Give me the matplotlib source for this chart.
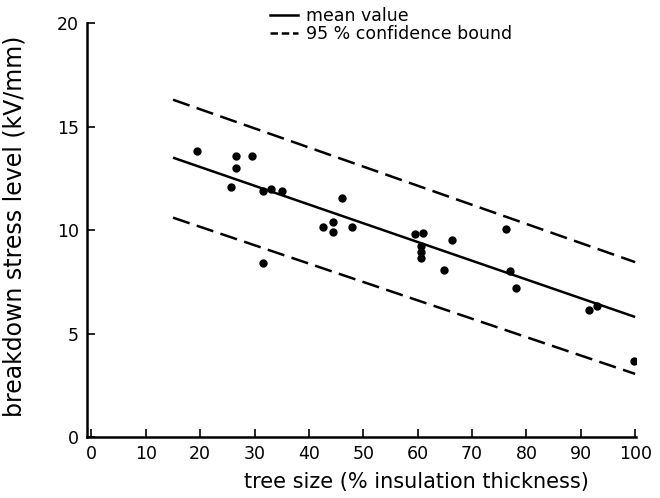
import matplotlib
matplotlib.use("Agg")
import matplotlib.pyplot as plt
from matplotlib.lines import Line2D

# data
tree_size = [19.5, 26.5, 29.5, 26.5, 25.7, 31.5, 33.0, 35.0, 31.6,
             46.1, 42.6, 44.5, 44.5, 48.0,
             59.5, 61.0, 60.7, 60.7, 60.7, 66.4, 64.9,
             76.3, 77.0, 78.1, 91.5, 93.0, 99.8]
stress = [13.8, 13.6, 13.6, 13.0, 12.1, 11.9, 12.0, 11.9, 8.4,
          11.55, 10.15, 10.4, 9.9, 10.15,
          9.8, 9.85, 9.25, 8.95, 8.65, 9.5, 8.05,
          10.05, 8.0, 7.2, 6.15, 6.35, 3.65]

line_x = [15, 100]
mean_y = [13.5, 5.8]
upper_y = [16.3, 8.45]
lower_y = [10.6, 3.05]

xticks = [0, 10, 20, 30, 40, 50, 60, 70, 80, 90, 100]
yticks = [0, 5, 10, 15, 20]

fig = plt.figure(figsize=(6.6, 4.98), dpi=100)
ax = fig.add_axes([0.132, 0.1225, 0.832, 0.831])

ax.plot(line_x, mean_y, color="black", lw=1.8, solid_capstyle="butt")
for yy in (upper_y, lower_y):
    ln, = ax.plot(line_x, yy, color="black", lw=1.8)
    ln.set_dashes([7, 3])
ax.plot(tree_size, stress, "o", color="black", ms=5)

ax.set_xlim(-0.8, 100.2)
ax.set_ylim(0, 20)
ax.set_xticks(xticks)
ax.set_yticks(yticks)
ax.tick_params(direction="in", length=6, width=1.2, labelsize=12.5, pad=6)
for s in ("top", "right"):
    ax.spines[s].set_visible(False)
for s in ("left", "bottom"):
    ax.spines[s].set_linewidth(1.8)

ax.set_xlabel("tree size (% insulation thickness)", fontsize=15)
ax.xaxis.set_label_coords(0.6, -0.085)
ax.set_ylabel("breakdown stress level (kV/mm)", fontsize=17)
ax.yaxis.set_label_coords(-0.11, 0.51)

handles = [Line2D([], [], color="black", lw=1.8),
           Line2D([], [], color="black", lw=1.8, dashes=[3, 1.5])]
fig.legend(handles, ["mean value", "95 % confidence bound"],
           loc="upper left", bbox_to_anchor=(0.385, 1.018), frameon=False,
           fontsize=12.5, handlelength=1.6, handletextpad=0.5,
           labelspacing=0.02)

fig.savefig("out.png", dpi=100)
